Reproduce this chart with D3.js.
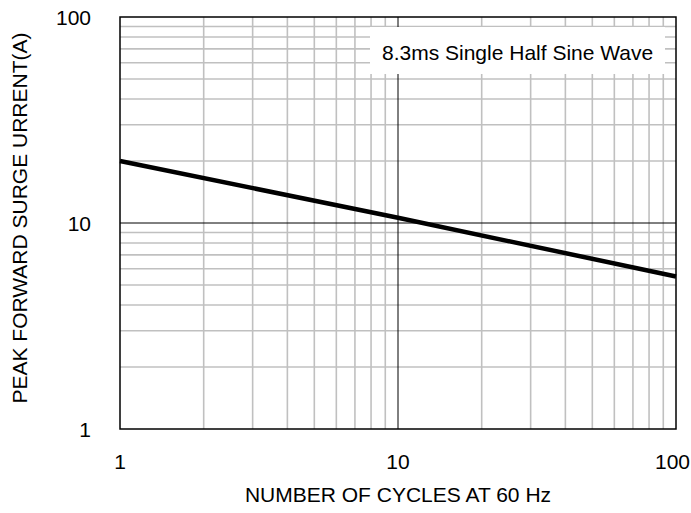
<!DOCTYPE html>
<html><head><meta charset="utf-8">
<script src="https://cdn.jsdelivr.net/npm/d3@7"></script>
<style>body{margin:0;background:#fff}svg{display:block}text{font-family:"Liberation Sans",Arial,sans-serif;fill:#000}</style>
</head><body>
<svg id="c" width="691" height="513"></svg>
<script>
const cycles = [1, 10, 100];
const surgeCurrent = [20, 10.6, 5.5];
const xTicks = [1, 10, 100];
const yTicks = [1, 10, 100];
const xTitle = "NUMBER OF CYCLES AT 60 Hz";
const yTitle = "PEAK FORWARD SURGE URRENT(A)";
const note = "8.3ms Single Half Sine Wave";

const svg = d3.select("#c");
const L = 120, R = 676, T = 17, B = 429;
const x = d3.scaleLog().domain([1, 100]).range([L, R]);
const y = d3.scaleLog().domain([1, 100]).range([B, T]);
const FS = 21;

const minor = [];
for (const d of [1, 10]) for (let k = 2; k <= 9; k++) minor.push(d * k);

const g = svg.append("g");
g.selectAll(".vx").data(minor).enter().append("line")
  .attr("x1", d => x(d)).attr("x2", d => x(d)).attr("y1", T).attr("y2", B)
  .attr("stroke", "#c0c0c0").attr("stroke-width", 1.6);
g.selectAll(".hy").data(minor).enter().append("line")
  .attr("y1", d => y(d)).attr("y2", d => y(d)).attr("x1", L).attr("x2", R)
  .attr("stroke", "#c0c0c0").attr("stroke-width", 1.6);
g.append("line").attr("x1", x(10)).attr("x2", x(10)).attr("y1", T).attr("y2", B).attr("stroke", "#000").attr("stroke-width", 1);
g.append("line").attr("y1", y(10)).attr("y2", y(10)).attr("x1", L).attr("x2", R).attr("stroke", "#000").attr("stroke-width", 1);

// note box
svg.append("rect").attr("x", 370).attr("y", 27).attr("width", 295).attr("height", 47).attr("fill", "#fff");
svg.append("text").attr("x", 382).attr("y", 52).attr("dominant-baseline", "central")
  .attr("font-size", FS).text(note);

// data line
const line = d3.line().x((d, i) => x(cycles[i])).y(d => y(d));
svg.append("path").attr("d", line(surgeCurrent)).attr("fill", "none")
  .attr("stroke", "#000").attr("stroke-width", 4.5);

// border
svg.append("rect").attr("x", L).attr("y", T).attr("width", R - L).attr("height", B - T)
  .attr("fill", "none").attr("stroke", "#000").attr("stroke-width", 1.5);

// tick labels
svg.selectAll(".yt").data(yTicks).enter().append("text")
  .attr("x", 91).attr("y", d => y(d)).attr("text-anchor", "end")
  .attr("dominant-baseline", "central").attr("font-size", FS).text(d => d);
svg.selectAll(".xt").data(xTicks).enter().append("text")
  .attr("x", d => d === 100 ? 690 : x(d)).attr("y", 461)
  .attr("text-anchor", d => d === 100 ? "end" : "middle")
  .attr("dominant-baseline", "central").attr("font-size", FS).text(d => d);

svg.append("text").attr("x", 398).attr("y", 494).attr("text-anchor", "middle")
  .attr("dominant-baseline", "central").attr("font-size", FS).text(xTitle);
svg.append("text").attr("transform", "translate(19,218) rotate(-90)").attr("text-anchor", "middle")
  .attr("dominant-baseline", "central").attr("font-size", FS).text(yTitle);
</script>
</body></html>
